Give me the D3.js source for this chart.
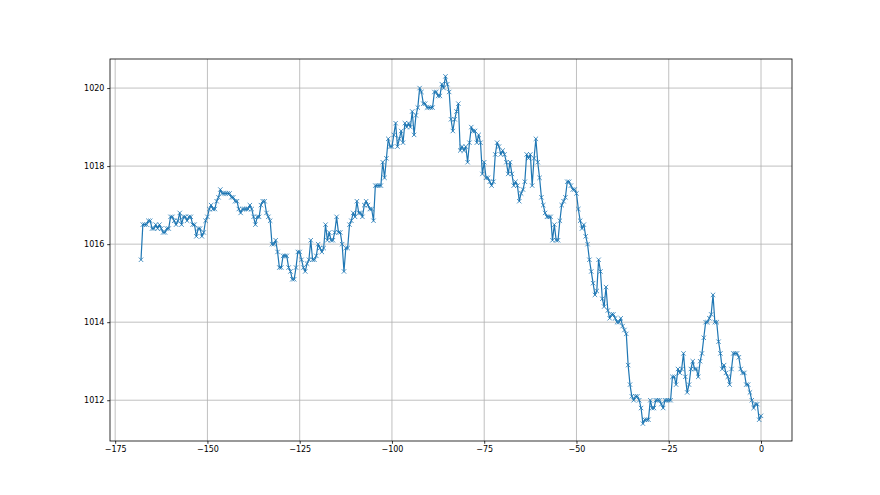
<!DOCTYPE html>
<html>
<head>
<meta charset="utf-8">
<script src="https://cdn.jsdelivr.net/npm/d3@7"></script>
<style>
body { margin: 0; background: #fff; }
svg { display: block; font-family: "DejaVu Sans", sans-serif; }
</style>
</head>
<body>
<svg width="880" height="495"></svg>
<script>
// pressure readings (hPa), one every half hour, oldest first, last one at hour 0
var firstHour = -168;
var stepHours = 0.5;
var pressure = [
  1015.6, 1016.5, 1016.5, 1016.5, 1016.6, 1016.6, 1016.4, 1016.4, 1016.5, 1016.4, 1016.5, 1016.4, 1016.3, 1016.3, 1016.4, 1016.4, 1016.7, 1016.7, 1016.6, 1016.5,
  1016.6, 1016.8, 1016.5, 1016.7, 1016.7, 1016.6, 1016.7, 1016.7, 1016.5, 1016.5, 1016.2, 1016.4, 1016.4, 1016.2, 1016.3, 1016.6, 1016.7, 1016.9, 1017.0, 1016.9,
  1016.9, 1017.1, 1017.2, 1017.4, 1017.3, 1017.3, 1017.3, 1017.3, 1017.3, 1017.2, 1017.2, 1017.1, 1017.1, 1016.9, 1016.8, 1016.9, 1016.9, 1016.9, 1016.9, 1017.0,
  1016.9, 1016.7, 1016.5, 1016.7, 1016.7, 1017.0, 1017.1, 1017.1, 1016.8, 1016.7, 1016.6, 1016.0, 1016.0, 1016.1, 1015.8, 1015.4, 1015.4, 1015.7, 1015.7, 1015.7,
  1015.4, 1015.3, 1015.1, 1015.1, 1015.4, 1015.8, 1015.8, 1015.6, 1015.4, 1015.3, 1015.5, 1015.6, 1016.1, 1015.6, 1015.6, 1015.7, 1016.0, 1015.9, 1015.8, 1015.9,
  1016.5, 1016.1, 1016.3, 1016.1, 1016.1, 1016.3, 1016.7, 1016.3, 1016.3, 1016.0, 1015.3, 1015.9, 1015.9, 1016.5, 1016.6, 1016.8, 1016.7, 1017.1, 1016.8, 1016.8,
  1016.7, 1017.0, 1017.1, 1017.0, 1016.9, 1016.9, 1016.6, 1017.5, 1017.5, 1017.5, 1017.5, 1018.1, 1017.7, 1018.2, 1018.7, 1018.5, 1018.5, 1018.8, 1019.1, 1018.5,
  1018.7, 1018.9, 1018.6, 1019.1, 1019.0, 1019.1, 1019.0, 1019.4, 1018.8, 1019.3, 1019.5, 1020.0, 1019.9, 1019.6, 1019.6, 1019.5, 1019.5, 1019.5, 1019.5, 1019.9,
  1019.9, 1019.8, 1019.8, 1020.1, 1020.0, 1020.3, 1020.1, 1019.9, 1019.2, 1018.9, 1019.2, 1019.4, 1019.6, 1018.4, 1018.5, 1018.4, 1018.5, 1018.1, 1018.6, 1019.0,
  1018.9, 1018.9, 1018.6, 1018.8, 1018.6, 1017.8, 1018.1, 1017.7, 1017.7, 1017.6, 1017.5, 1017.6, 1018.3, 1018.6, 1018.5, 1018.3, 1018.4, 1018.3, 1018.1, 1017.8,
  1018.1, 1017.8, 1017.5, 1017.6, 1017.5, 1017.1, 1017.3, 1017.4, 1017.6, 1018.3, 1018.2, 1018.3, 1017.5, 1018.2, 1018.7, 1018.1, 1017.7, 1017.2, 1017.0, 1016.8,
  1016.7, 1016.7, 1016.7, 1016.1, 1016.5, 1016.1, 1016.1, 1016.6, 1017.0, 1017.1, 1017.2, 1017.6, 1017.6, 1017.5, 1017.4, 1017.4, 1017.3, 1016.9, 1016.6, 1016.4,
  1016.5, 1016.2, 1016.0, 1015.6, 1015.3, 1015.0, 1014.7, 1014.8, 1015.6, 1015.3, 1014.6, 1014.4, 1014.9, 1014.3, 1014.1, 1014.2, 1014.2, 1014.1, 1014.0, 1014.0,
  1014.1, 1013.9, 1013.8, 1013.7, 1012.9, 1012.4, 1012.1, 1012.0, 1012.1, 1012.1, 1012.0, 1011.8, 1011.4, 1011.5, 1011.5, 1011.5, 1012.0, 1011.8, 1011.8, 1012.0,
  1012.0, 1012.0, 1011.9, 1011.8, 1012.0, 1012.0, 1012.0, 1012.0, 1012.6, 1012.6, 1012.4, 1012.8, 1012.7, 1012.8, 1013.2, 1012.6, 1012.2, 1012.4, 1012.8, 1013.0,
  1012.8, 1012.8, 1012.6, 1013.0, 1013.2, 1013.6, 1014.0, 1014.0, 1014.1, 1014.2, 1014.7, 1014.0, 1014.0, 1013.5, 1013.2, 1012.8, 1012.9, 1012.7, 1012.6, 1012.4,
  1012.8, 1013.2, 1013.2, 1013.2, 1013.1, 1012.8, 1012.7, 1012.7, 1012.4, 1012.4, 1012.2, 1012.0, 1011.8, 1011.9, 1011.9, 1011.5, 1011.6
];
var xTicks = [-175, -150, -125, -100, -75, -50, -25, 0];
var yTicks = [1012, 1014, 1016, 1018, 1020];

var svg = d3.select("svg");
var width = 880, height = 495;
var margin = { left: 110, right: 88, top: 59, bottom: 54 };

var points = pressure.map(function(v, i) {
    return { h: firstHour + i * stepHours, p: v };
});

// 5% padding on each side like matplotlib autoscale
var xExt = d3.extent(points, function(d) { return d.h; });
var yExt = d3.extent(points, function(d) { return d.p; });
var xPad = (xExt[1] - xExt[0]) * 0.05;
var yPad = (yExt[1] - yExt[0]) * 0.05;

var x = d3.scaleLinear()
    .domain([xExt[0] - xPad, xExt[1] + xPad])
    .range([margin.left, width - margin.right]);
var y = d3.scaleLinear()
    .domain([yExt[0] - yPad, yExt[1] + yPad])
    .range([height - margin.bottom, margin.top]);

var gridColor = "#b0b0b0";
var blue = "#1f77b4";

// grid
svg.append("g").selectAll("line")
    .data(xTicks).enter().append("line")
    .attr("x1", function(d) { return x(d); })
    .attr("x2", function(d) { return x(d); })
    .attr("y1", margin.top).attr("y2", height - margin.bottom)
    .attr("stroke", gridColor).attr("stroke-width", 0.8);
svg.append("g").selectAll("line")
    .data(yTicks).enter().append("line")
    .attr("y1", function(d) { return y(d); })
    .attr("y2", function(d) { return y(d); })
    .attr("x1", margin.left).attr("x2", width - margin.right)
    .attr("stroke", gridColor).attr("stroke-width", 0.8);

// line
var line = d3.line()
    .x(function(d) { return x(d.h); })
    .y(function(d) { return y(d.p); });
svg.append("path")
    .datum(points)
    .attr("d", line)
    .attr("fill", "none")
    .attr("stroke", blue)
    .attr("stroke-width", 1.2)
    .attr("stroke-linejoin", "round");

// x markers
var m = 2.2;
svg.append("g").selectAll("path")
    .data(points).enter().append("path")
    .attr("transform", function(d) { return "translate(" + x(d.h) + "," + y(d.p) + ")"; })
    .attr("d", "M" + (-m) + "," + (-m) + "L" + m + "," + m + "M" + (-m) + "," + m + "L" + m + "," + (-m))
    .attr("stroke", blue)
    .attr("stroke-width", 0.8)
    .attr("fill", "none");

// axes
var xAxis = d3.axisBottom(x).tickValues(xTicks).tickSize(2.8).tickPadding(2.8).tickFormat(d3.format("d"));
var yAxis = d3.axisLeft(y).tickValues(yTicks).tickSize(2.8).tickPadding(2.8).tickFormat(d3.format("d"));

var gx = svg.append("g")
    .attr("transform", "translate(0," + (height - margin.bottom) + ")")
    .call(xAxis);
var gy = svg.append("g")
    .attr("transform", "translate(" + margin.left + ",0)")
    .call(yAxis);

[gx, gy].forEach(function(g) {
    g.select(".domain").remove();
    g.selectAll(".tick line").attr("stroke", "#000").attr("stroke-width", 0.8);
    g.selectAll(".tick text").attr("fill", "#000").style("font-size", "8px").style("font-family", "DejaVu Sans");
});

// frame
svg.append("rect")
    .attr("x", margin.left).attr("y", margin.top)
    .attr("width", width - margin.left - margin.right)
    .attr("height", height - margin.top - margin.bottom)
    .attr("fill", "none")
    .attr("stroke", "#000")
    .attr("stroke-width", 0.8);
</script>
</body>
</html>
